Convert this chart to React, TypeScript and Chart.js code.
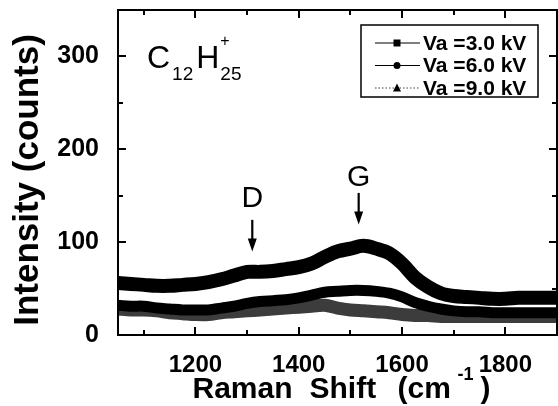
import React, { useEffect, useRef } from 'react';
import { Chart, registerables } from 'chart.js';

Chart.register(...registerables);

// Raman shift (cm^-1)
const ramanShift = [
  1050, 1075, 1100, 1125, 1150, 1175, 1200, 1225, 1250, 1275, 1300, 1325,
  1350, 1375, 1400, 1425, 1450, 1475, 1500, 1525, 1550, 1575, 1600, 1625,
  1650, 1675, 1700, 1725, 1750, 1775, 1800, 1825, 1850, 1875, 1900,
];
// Intensity (counts)
const va30 = [
  56, 55, 54, 53, 53, 54, 55, 57, 60, 64, 68, 68,
  69, 71, 73, 77, 84, 90, 93, 96, 93, 88, 77, 62,
  52, 45, 42, 41, 40, 39, 39, 40, 40, 40, 40,
];
const va60 = [
  32, 31, 31, 29, 28, 27, 27, 27, 29, 31, 34, 36,
  37, 38, 40, 43, 46, 47, 48, 48, 47, 45, 41, 35,
  31, 28, 26, 25, 25, 24, 24, 24, 24, 24, 24,
];
const va90 = [
  28, 27, 27, 26, 24, 23, 22, 22, 24, 25, 26, 27,
  28, 29, 30, 31, 32, 29, 27, 26, 25, 24, 22, 21,
  21, 20, 20, 20, 20, 20, 20, 20, 20, 20, 20,
];
const seriesLabels = ['Va =3.0 kV', 'Va =6.0 kV', 'Va =9.0 kV'];
const seriesMarkers = ['rect', 'circle', 'triangle'];

const xMin = 1050;
const xMax = 1900;
const yMin = 0;
const yMax = 350;

const peakNames = ['D', 'G'];
const peakShift = [1310, 1516];
const peakLabelAt = [138, 160];
const peakArrowFrom = [124, 153];
const peakArrowTo = [90, 119];

const FONT = "'Liberation Sans', Arial, sans-serif";

function drawMarker(ctx: CanvasRenderingContext2D, style: string, x: number, y: number, r: number) {
  ctx.beginPath();
  if (style === 'rect') {
    ctx.rect(x - r, y - r, 2 * r, 2 * r);
  } else if (style === 'circle') {
    ctx.arc(x, y, r, 0, Math.PI * 2);
  } else {
    ctx.moveTo(x, y - r - 1);
    ctx.lineTo(x + r + 0.5, y + r);
    ctx.lineTo(x - r - 0.5, y + r);
    ctx.closePath();
  }
  ctx.fill();
}

const framePlugin = {
  id: 'frameTicks',
  afterDatasetsDraw(chart: any) {
    const { ctx, chartArea } = chart;
    const { left, right, top, bottom } = chartArea;
    const xs = chart.scales.x;
    const ys = chart.scales.y;
    ctx.save();
    ctx.strokeStyle = '#000';
    ctx.lineWidth = 2;
    ctx.strokeRect(left, top, right - left, bottom - top);
    ctx.lineWidth = 2;
    ctx.beginPath();
    xs.ticks.forEach((t: any) => {
      if (t.value % 100 !== 0) return;
      const px = Math.round(xs.getPixelForValue(t.value));
      const len = t.value % 200 === 0 ? 8 : 5;
      ctx.moveTo(px, bottom);
      ctx.lineTo(px, bottom - len);
      ctx.moveTo(px, top);
      ctx.lineTo(px, top + len);
    });
    ys.ticks.forEach((t: any) => {
      if (t.value % 50 !== 0) return;
      const py = Math.round(ys.getPixelForValue(t.value));
      const len = t.value % 100 === 0 ? 8 : 5;
      ctx.moveTo(left, py);
      ctx.lineTo(left + len, py);
      ctx.moveTo(right, py);
      ctx.lineTo(right - len, py);
    });
    ctx.stroke();
    ctx.restore();
  },
};

const annotationPlugin = {
  id: 'annotations',
  afterDraw(chart: any) {
    const { ctx, chartArea } = chart;
    const xs = chart.scales.x;
    const ys = chart.scales.y;
    ctx.save();
    ctx.fillStyle = '#000';
    ctx.strokeStyle = '#000';
    ctx.textBaseline = 'alphabetic';

    // species label C12H25+
    const bx = chartArea.left + 29;
    const base = chartArea.top + 58;
    ctx.textAlign = 'left';
    ctx.font = `32px ${FONT}`;
    ctx.fillText('C', bx, base);
    let cx = bx + ctx.measureText('C').width + 2;
    ctx.font = `19px ${FONT}`;
    ctx.fillText('12', cx, base + 12);
    cx += ctx.measureText('12').width + 3;
    ctx.font = `32px ${FONT}`;
    ctx.fillText('H', cx, base);
    cx += ctx.measureText('H').width + 1;
    ctx.font = `16px ${FONT}`;
    ctx.fillText('+', cx, base - 22);
    ctx.font = `19px ${FONT}`;
    ctx.fillText('25', cx, base + 12);

    // D / G peak markers
    peakNames.forEach((name, i) => {
      const px = xs.getPixelForValue(peakShift[i]);
      const yl = ys.getPixelForValue(peakLabelAt[i]);
      const y0 = ys.getPixelForValue(peakArrowFrom[i]);
      const y1 = ys.getPixelForValue(peakArrowTo[i]);
      ctx.font = `30px ${FONT}`;
      ctx.textAlign = 'center';
      ctx.fillText(name, px, yl);
      ctx.lineWidth = 2.2;
      ctx.beginPath();
      ctx.moveTo(px, y0);
      ctx.lineTo(px, y1 - 8);
      ctx.stroke();
      ctx.beginPath();
      ctx.moveTo(px, y1);
      ctx.lineTo(px - 4.5, y1 - 13);
      ctx.lineTo(px + 4.5, y1 - 13);
      ctx.closePath();
      ctx.fill();
    });

    // y axis title
    ctx.textAlign = 'center';
    ctx.textBaseline = 'middle';
    ctx.save();
    ctx.translate(28, 180);
    ctx.rotate(-Math.PI / 2);
    ctx.font = `bold 35px ${FONT}`;
    ctx.fillText('Intensity (counts)', 0, 0);
    ctx.restore();

    // x axis title: Raman Shift (cm^-1)
    ctx.textBaseline = 'alphabetic';
    ctx.textAlign = 'left';
    const mid = (chartArea.left + chartArea.right) / 2;
    const tb = 398;
    const mainFont = `bold 30px ${FONT}`;
    ctx.font = mainFont;
    ctx.fillText('Raman', mid - 145, tb);
    ctx.fillText('Shift', mid - 28, tb);
    ctx.fillText('(cm', mid + 60, tb);
    ctx.fillText(')', mid + 143, tb);
    ctx.font = `bold 18px ${FONT}`;
    ctx.fillText('-1', mid + 120, tb - 18);
    ctx.restore();
  },
};

const legendPlugin = {
  id: 'boxLegend',
  afterDraw(chart: any) {
    const { ctx, chartArea } = chart;
    const bx = chartArea.right - 196;
    const by = chartArea.top + 15;
    const bw = 177;
    const bh = 72;
    ctx.save();
    ctx.fillStyle = '#fff';
    ctx.fillRect(bx, by, bw, bh);
    ctx.strokeStyle = '#000';
    ctx.lineWidth = 1.5;
    ctx.strokeRect(bx, by, bw, bh);
    chart.data.datasets.forEach((ds: any, i: number) => {
      const ry = by + 18 + i * 22.5;
      ctx.strokeStyle = i === 2 ? '#444' : '#000';
      ctx.lineWidth = 1.2;
      ctx.setLineDash(i === 2 ? [1.5, 2] : []);
      ctx.beginPath();
      ctx.moveTo(bx + 14, ry);
      ctx.lineTo(bx + 59, ry);
      ctx.stroke();
      ctx.setLineDash([]);
      ctx.fillStyle = '#000';
      drawMarker(ctx, seriesMarkers[i], bx + 36, ry, 3.5);
      ctx.font = `bold 21px ${FONT}`;
      ctx.textAlign = 'left';
      ctx.textBaseline = 'middle';
      ctx.fillText(ds.label, bx + 62, ry + 1);
    });
    ctx.restore();
  },
};

const zeroPad = (s: any) => {
  s.paddingTop = 0;
  s.paddingBottom = 0;
  s.paddingLeft = 0;
  s.paddingRight = 0;
};

export default function App() {
  const canvasRef = useRef<HTMLCanvasElement | null>(null);

  useEffect(() => {
    document.body.style.margin = '0';
    const canvas = canvasRef.current;
    if (!canvas) return;
    const mk = (arr: number[]) => ramanShift.map((x, i) => ({ x, y: arr[i] }));
    const chart = new Chart(canvas, {
      type: 'line',
      data: {
        datasets: [
          {
            label: seriesLabels[0],
            data: mk(va30),
            borderColor: '#000',
            borderWidth: 14,
            pointRadius: 0,
            tension: 0.35,
            clip: 0,
          },
          {
            label: seriesLabels[1],
            data: mk(va60),
            borderColor: '#000',
            borderWidth: 11,
            pointRadius: 0,
            tension: 0.35,
            clip: 0,
          },
          {
            label: seriesLabels[2],
            data: mk(va90),
            borderColor: '#3c3c3c',
            borderWidth: 13,
            pointRadius: 0,
            tension: 0.35,
            clip: 0,
          },
        ],
      },
      options: {
        responsive: false,
        animation: false,
        devicePixelRatio: 1,
        layout: { padding: { top: 10, right: 1, left: 0, bottom: 0 } },
        plugins: {
          legend: { display: false },
          tooltip: { enabled: false },
        },
        scales: {
          x: {
            type: 'linear',
            min: xMin,
            max: xMax,
            grid: { display: false },
            border: { display: false },
            ticks: {
              stepSize: 100,
              includeBounds: false,
              maxRotation: 0,
              autoSkip: false,
              padding: 8,
              color: '#000',
              font: { family: FONT, size: 24, weight: 'bold' },
              callback: (v: any) => (Number(v) % 200 === 0 ? String(v) : ''),
            },
            afterFit: (s: any) => {
              s.height = 71;
              zeroPad(s);
            },
          },
          y: {
            type: 'linear',
            min: yMin,
            max: yMax,
            grid: { display: false },
            border: { display: false },
            ticks: {
              stepSize: 50,
              includeBounds: false,
              autoSkip: false,
              padding: 11,
              color: '#000',
              font: { family: FONT, size: 25, weight: 'bold' },
              callback: (v: any) => (Number(v) % 100 === 0 ? String(v) : ''),
            },
            afterFit: (s: any) => {
              s.width = 118;
              zeroPad(s);
            },
          },
        },
      },
      plugins: [framePlugin, annotationPlugin, legendPlugin],
    } as any);
    return () => chart.destroy();
  }, []);

  return <canvas ref={canvasRef} width={558} height={406} style={{ display: 'block' }} />;
}
